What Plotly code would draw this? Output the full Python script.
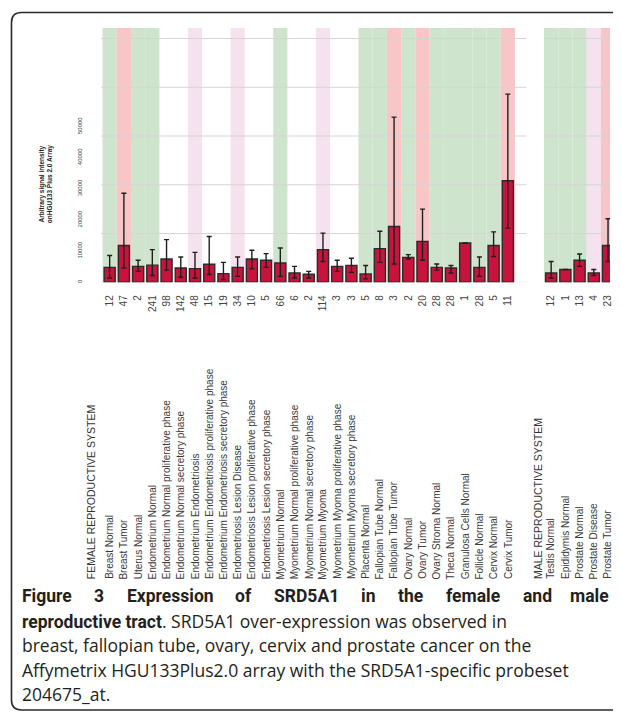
import plotly.graph_objects as go

# The page body has an 8px margin, so the figure is drawn 8px in from the
# top-left corner of the window; positions below are window pixels.
OFF = 8
W, H = 621 - 2 * OFF, 720 - 2 * OFF

def px_x(p):
    return (p - OFF) / W

def px_y(p):
    return 1 - (p - OFF) / H

# ---------------- data ----------------
female_names = [
    "Breast Normal", "Breast Tumor", "Uterus Normal", "Endometrium Normal",
    "Endometrium Normal proliferative phase", "Endometrium Normal secretory phase",
    "Endometrium Endometriosis", "Endometrium Endometriosis proliferative phase",
    "Endometrium Endometriosis secretory phase", "Endometriosis Lesion Disease",
    "Endometriosis Lesion proliferative phase", "Endometriosis Lesion secretory phase",
    "Myometrium Normal", "Myometrium Normal proliferative phase",
    "Myometrium Normal secretory phase", "Myometrium Myoma",
    "Myometrium Myoma proliferative phase", "Myometrium Myoma secretory phase",
    "Placenta Normal", "Fallopian Tube Normal", "Fallopian Tube Tumor",
    "Ovary Normal", "Ovary Tumor", "Ovary Stroma Normal", "Theca Normal",
    "Granulosa Cells Normal", "Follicle Normal", "Cervix Normal", "Cervix Tumor",
]
female_counts = [12, 47, 2, 241, 98, 142, 48, 15, 19, 34, 10, 5, 66, 6, 2, 114,
                 3, 3, 5, 8, 3, 2, 20, 28, 28, 1, 28, 5, 11]
female_mean = [4800, 11800, 5100, 5500, 7500, 4600, 4400, 5800, 2800, 4800,
               7500, 7100, 6200, 3000, 2600, 10500, 5100, 5400, 2700, 10800,
               17900, 8000, 13100, 4800, 4600, 12600, 4800, 11800, 32600]
female_hi = [8600, 28600, 7100, 10500, 13700, 8100, 9600, 14700, 6400, 8100,
             10300, 9200, 11000, 5100, 3500, 15800, 7100, 7700, 5400, 16400,
             53000, 8900, 23500, 5900, 5400, None, 8100, 16200, 60400]
female_lo = [1400, 4600, 3500, 2200, 3900, 1600, 1400, 2500, 900, 1900,
             4300, 4800, 1900, 1400, 1400, 6700, 3500, 3200, 1100, 6400,
             5900, 7500, 7100, 3900, 3000, None, 1900, 8300, 17400]
female_class = ["normal", "tumor", "normal", "normal", None, None, "disease", None,
                None, "disease", None, None, "normal", None, None, "disease", None,
                None, "normal", "normal", "tumor", "normal", "tumor", "normal",
                "normal", "normal", "normal", "normal", "tumor"]

male_names = ["Testis Normal", "Epididymis Normal", "Prostate Normal",
              "Prostate Disease", "Prostate Tumor"]
male_counts = [12, 1, 13, 4, 23]
male_mean = [3000, 4100, 7100, 3000, 11800]
male_hi = [6700, None, 9100, 4100, 20400]
male_lo = [1400, None, 5100, 2200, 6700]
male_class = ["normal", "normal", "normal", "disease", "tumor"]

y_tick_vals = [0, 10000, 20000, 30000, 40000, 50000]
y_tick_text = ["0", "10000", "20000", "30000", "40000", "50000"]
grid_vals = [0, 15650, 31300, 46950, 62600, 78250]

headers = ["FEMALE REPRODUCTIVE SYSTEM", "MALE REPRODUCTIVE SYSTEM"]
y_title = "Arbitrary signal intensity<br>onHGU133 Plus 2.0 Array"

band_colors = {"normal": "#cfe4cd", "tumor": "#f8c6c6", "disease": "#f6e1ee"}
BAR_COLOR = "#c8143c"

# ---------------- figure ----------------
fig = go.Figure()

def err(mean, hi, lo):
    up = [None if h is None else h - m for m, h in zip(mean, hi)]
    dn = [None if l is None else m - l for m, l in zip(mean, lo)]
    return dict(type="data", symmetric=False, array=up, arrayminus=dn,
                color="#1e1e1e", thickness=1.4, width=2.5)

fig.add_trace(go.Bar(
    x=female_names, y=female_mean, xaxis="x", yaxis="y", width=0.78,
    marker=dict(color=BAR_COLOR, line=dict(color="#2b2b2b", width=1.4)),
    error_y=err(female_mean, female_hi, female_lo), showlegend=False))
fig.add_trace(go.Bar(
    x=male_names, y=male_mean, xaxis="x2", yaxis="y", width=0.78,
    marker=dict(color=BAR_COLOR, line=dict(color="#2b2b2b", width=1.4)),
    error_y=err(male_mean, male_hi, male_lo), showlegend=False))

shapes = []
for xr, classes in (("x", female_class), ("x2", male_class)):
    for i, c in enumerate(classes):
        if c is None:
            continue
        shapes.append(dict(type="rect", xref=xr, yref="y domain",
                           x0=i - 0.5, x1=i + 0.5, y0=0, y1=1,
                           fillcolor=band_colors[c], line=dict(width=0),
                           layer="below"))
for xr in ("x domain", "x2 domain"):
    for g in grid_vals:
        shapes.append(dict(type="line", xref=xr, yref="y", x0=0, x1=1,
                           y0=g, y1=g, line=dict(color="#d4d4d4", width=1),
                           layer="below"))

# rounded frame (open on the right, as in the cropped original)
fl, ft, fb, fr, rad = 11.5, 12.5, 711, 660, 10
path = (f"M {px_x(fr)},{px_y(ft)} L {px_x(fl + rad)},{px_y(ft)} "
        f"Q {px_x(fl)},{px_y(ft)} {px_x(fl)},{px_y(ft + rad)} "
        f"L {px_x(fl)},{px_y(fb - rad)} "
        f"Q {px_x(fl)},{px_y(fb)} {px_x(fl + rad)},{px_y(fb)} "
        f"L {px_x(fr)},{px_y(fb)}")
shapes.append(dict(type="path", xref="paper", yref="paper", path=path,
                   line=dict(color="#2a2a2a", width=1.6)))

annotations = []
LABEL_FONT = dict(family="Liberation Sans, Arial, sans-serif", size=10, color="#3a3a3a")
name_y = px_y(582)
for xr, names in (("x", female_names), ("x2", male_names)):
    for n in names:
        annotations.append(dict(x=n, y=name_y, xref=xr, yref="paper",
                                text=n, showarrow=False, textangle=-90,
                                xanchor="center", yanchor="bottom",
                                font=LABEL_FONT))
for hx, h in zip((91.5, 540), headers):
    annotations.append(dict(x=px_x(hx), y=name_y, xref="paper", yref="paper",
                            text=h, showarrow=False, textangle=-90,
                            xanchor="center", yanchor="bottom",
                            font=dict(family="Liberation Sans, Arial, sans-serif",
                                      size=10.5, color="#333333")))
annotations.append(dict(x=px_x(36), y=px_y(142), xref="paper", yref="paper",
                        text="<b>" + y_title + "</b>", showarrow=False,
                        textangle=-90, font=dict(family="Liberation Sans, Arial",
                                                 size=6.5, color="#222222")))

# ---- caption ----
CAP_SIZE = 17.5
CAP_COLOR = "#231f20"
LINE_Y = [597 + 24.5 * k for k in range(5)]

# first line is fully justified between x=20 and x=614: place word by word
title_words = ["Figure", "3", "Expression", "of", "SRD5A1", "in", "the",
               "female", "and", "male"]
title_em = [2.81, 0.56, 4.87, 0.92, 3.66, 0.82, 1.43, 3.08, 1.66, 2.20]
left, right = 20, 614
wpx = [e * CAP_SIZE for e in title_em]
gap = (right - left - sum(wpx)) / (len(title_words) - 1)
xpos = left
for k, (word, w) in enumerate(zip(title_words, wpx)):
    last = k == len(title_words) - 1
    annotations.append(dict(x=px_x(right if last else xpos), y=px_y(LINE_Y[0]),
                            xref="paper", yref="paper", text="<b>" + word + "</b>",
                            showarrow=False, xanchor="right" if last else "left",
                            yanchor="middle",
                            font=dict(family="Roboto, sans-serif", size=CAP_SIZE,
                                      color=CAP_COLOR)))
    xpos += w + gap

caption_lines = [
    '<span style="font-family:Roboto, sans-serif"><b>reproductive tract</b></span>'
    ". SRD5A1 over-expression was observed in",
    "breast, fallopian tube, ovary, cervix and prostate cancer on the",
    "Affymetrix HGU133Plus2.0 array with the SRD5A1-specific probeset",
    "204675_at.",
]
for k, line in enumerate(caption_lines):
    annotations.append(dict(x=px_x(20), y=px_y(LINE_Y[k + 1]), xref="paper",
                            yref="paper", text=line, showarrow=False,
                            xanchor="left", yanchor="middle",
                            font=dict(family="Open Sans, sans-serif", size=CAP_SIZE,
                                      color=CAP_COLOR)))

ydom = [px_y(282.7), px_y(28)]
fig.update_layout(
    width=W, height=H, margin=dict(l=0, r=0, t=0, b=0),
    paper_bgcolor="white", plot_bgcolor="rgba(0,0,0,0)",
    showlegend=False,
    xaxis=dict(domain=[px_x(101.6), px_x(528.9)], anchor="y", type="category",
               categoryorder="array", categoryarray=female_names,
               range=[-0.6, 29.3], tickmode="array", tickvals=female_names,
               ticktext=[str(c) for c in female_counts], tickangle=-90,
               tickfont=dict(family="Liberation Sans, Arial", size=10, color="#444444"),
               ticklabelstandoff=10, showgrid=False, zeroline=False,
               showline=False, ticks=""),
    xaxis2=dict(domain=[px_x(546.7), 1.0], anchor="y", type="category",
                categoryorder="array", categoryarray=male_names,
                range=[-0.5, (613 - 546.7) / 14.29 - 0.5], tickmode="array",
                tickvals=male_names,
                ticktext=[str(c) for c in male_counts], tickangle=-90,
                tickfont=dict(family="Liberation Sans, Arial", size=10, color="#444444"),
                ticklabelstandoff=10, showgrid=False, zeroline=False,
                showline=False, ticks=""),
    yaxis=dict(domain=ydom, anchor="x", range=[0, 81630], tickmode="array",
               tickvals=y_tick_vals, ticktext=y_tick_text, tickangle=-90,
               tickfont=dict(family="Liberation Sans, Arial", size=6, color="#444444"),
               ticklabelstandoff=17, showgrid=False, zeroline=False,
               showline=False, ticks=""),
    shapes=shapes, annotations=annotations,
)

fig.write_html("out.html")
